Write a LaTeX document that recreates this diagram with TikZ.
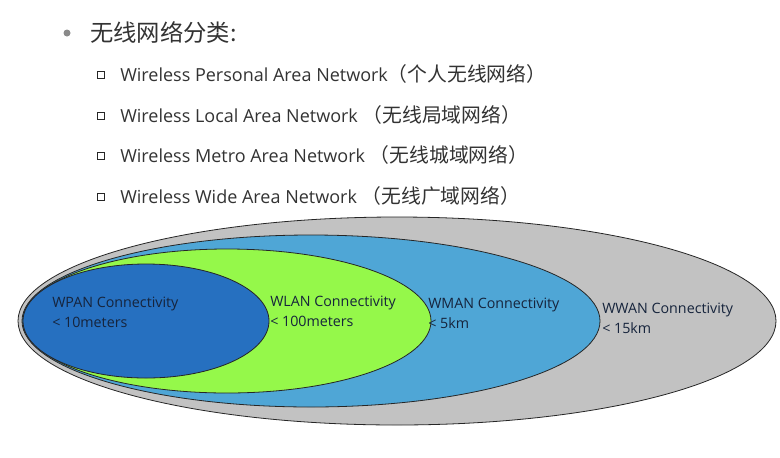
\documentclass[tikz,border=0pt]{standalone}
\usepackage{fontspec}
\setmainfont{Open Sans}
\newfontfamily\cjk{Noto Sans CJK SC}[Scale=1.1]
\newfontfamily\cjktitle{Noto Sans CJK SC}
\definecolor{txt}{HTML}{333333}
\definecolor{lbl}{HTML}{16243C}
\definecolor{wwan}{HTML}{C2C2C2}
\definecolor{wman}{HTML}{4FA6D6}
\definecolor{wlan}{HTML}{95F84A}
\definecolor{wpan}{HTML}{2670C0}
\definecolor{dotgray}{HTML}{8A8A8A}
\begin{document}
\begin{tikzpicture}[x=0.75pt,y=-0.75pt,
  head/.style={anchor=west,inner sep=0pt,text=txt,font=\fontsize{17.5pt}{20pt}\selectfont},
  item/.style={anchor=west,inner sep=0pt,text=txt,font=\fontsize{13.5pt}{16pt}\selectfont},
  sq/.style={draw=black!85,fill=white,line width=1pt,minimum size=5.5pt,inner sep=0pt},
  zone/.style={draw=black!85,line width=0.6pt},
  lab/.style={anchor=west,inner sep=0pt,text=lbl,font=\fontsize{10.7pt}{15pt}\selectfont,align=left}]
\path[use as bounding box] (0,0) rectangle (780,457);
\fill[white] (0,0) rectangle (780,457);
% header
\fill[dotgray] (67,33) circle (3.5);
\node[head] (title) at (90,33) {\cjktitle 无线网络分类:};
\node[sq] (s1) at (101,75) {};
\node[sq] (s2) at (101,116) {};
\node[sq] (s3) at (101,156) {};
\node[sq] (s4) at (101,197) {};
\node[item] (t1) at (120,74) {Wireless Personal Area Network{\cjk （个人无线网络）}};
\node[item] (t2) at (120,115) {Wireless Local Area Network {\cjk （无线局域网络）}};
\node[item] (t3) at (120,155) {Wireless Metro Area Network {\cjk （无线城域网络）}};
\node[item] (t4) at (120,196) {Wireless Wide Area Network {\cjk （无线广域网络）}};
% ellipses
\draw[zone,fill=wwan] (397,321) ellipse (379 and 104);
\draw[zone,fill=wman] (311,321) ellipse (289 and 86);
\draw[zone,fill=wlan] (227,321) ellipse (204 and 72);
\draw[zone,fill=wpan] (146,321) ellipse (123 and 57);
\node[lab] (lpan) at (52,312) {WPAN Connectivity\\< 10meters};
\node[lab] (llan) at (270,311) {WLAN Connectivity\\< 100meters};
\node[lab] (lman) at (428,313) {WMAN Connectivity\\< 5km};
\node[lab] (lwan) at (602,318) {WWAN Connectivity\\< 15km};
\end{tikzpicture}
\end{document}
